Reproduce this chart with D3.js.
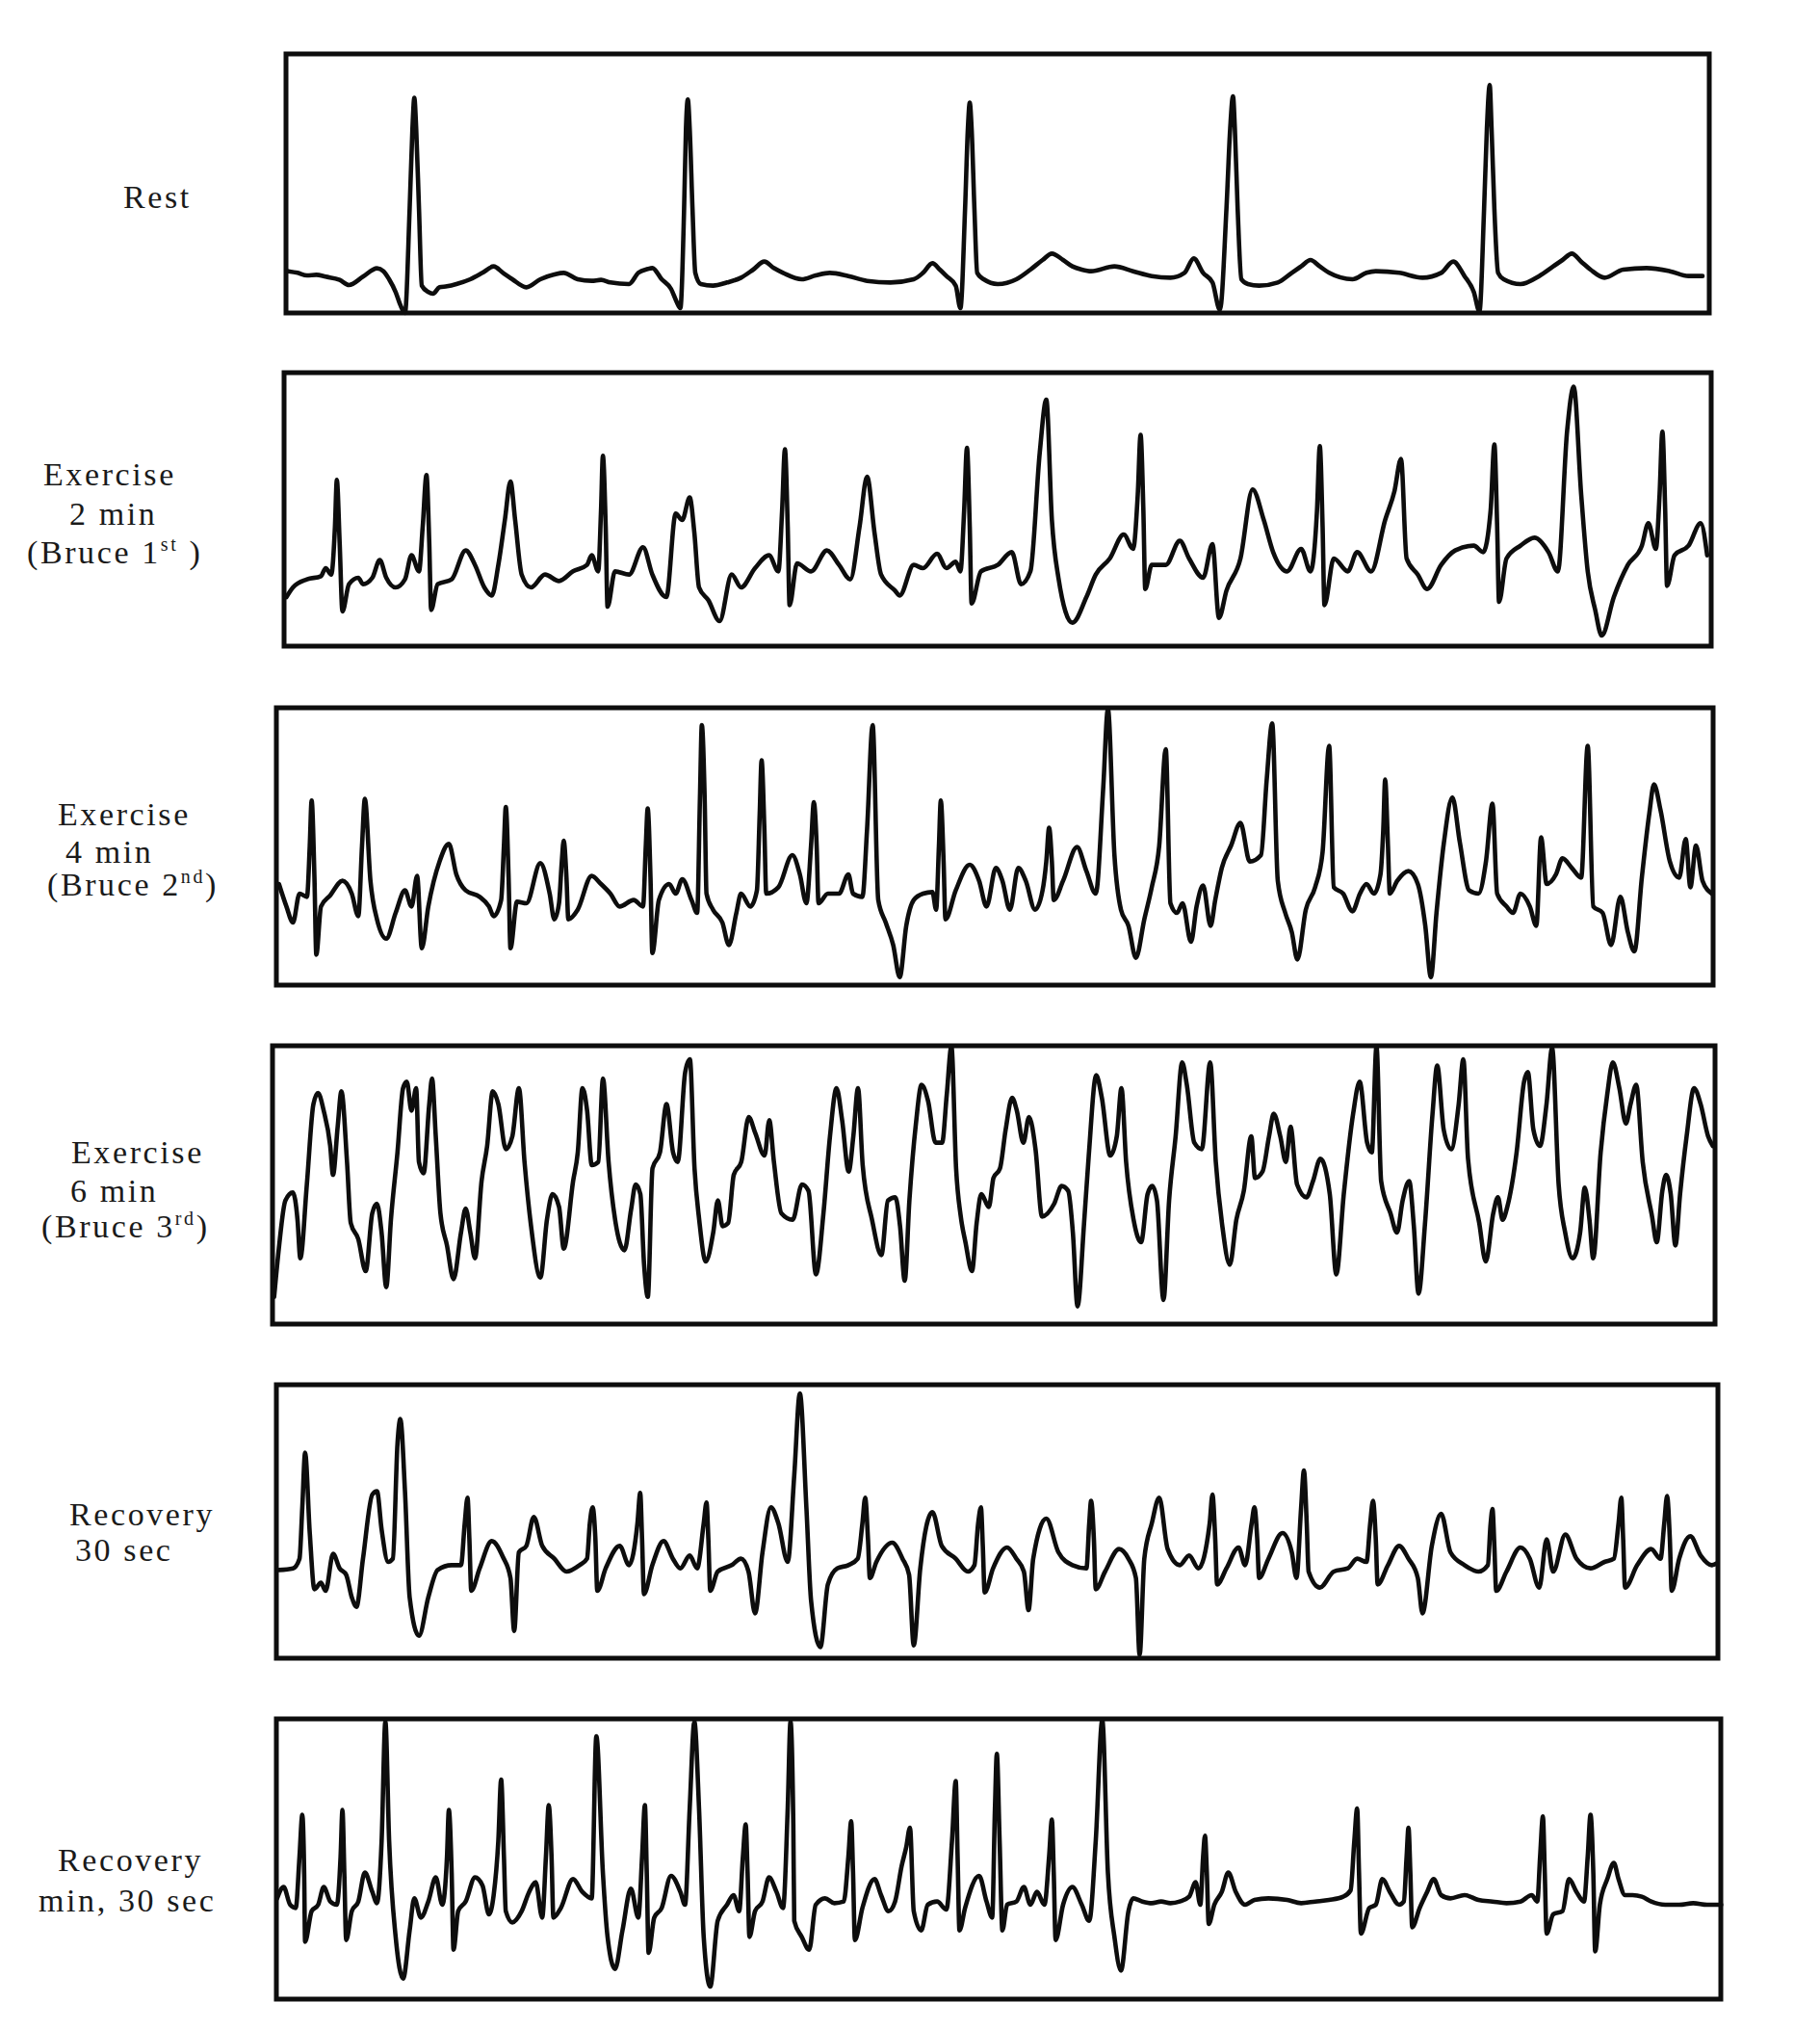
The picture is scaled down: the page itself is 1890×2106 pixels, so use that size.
<!DOCTYPE html>
<html>
<head>
<meta charset="utf-8">
<script src="https://cdn.jsdelivr.net/npm/d3@7"></script>
<style>
  html, body { margin: 0; padding: 0; background: #fff; }
  svg { display: block; }
  text { font-family: "Liberation Serif", "Times New Roman", serif; fill: #1a1a1a; }
</style>
</head>
<body>
<svg id="chart" width="1890" height="2106"></svg>
<script>
const stageNames = ["Rest", "Exercise 2 min", "Exercise 4 min", "Exercise 6 min", "Recovery 30 sec", "Recovery min, 30 sec"];

const restTrace = [[20,695],[30,700],[40,708],[50,706],[60,712],[75,722],[85,738],[100,712],[115,686],[122,695],[128,720],[135,760],[140,800],[145,825],[150,500],[153,250],[155,155],[157,250],[160,500],[163,740],[170,760],[175,765],[182,745],[190,742],[200,735],[215,720],[228,700],[240,680],[250,700],[260,720],[275,745],[290,720],[305,705],[315,700],[330,720],[345,725],[355,722],[365,730],[385,735],[395,700],[405,688],[410,685],[420,720],[430,750],[436,790],[440,810],[444,500],[446,250],[448,160],[450,250],[453,500],[456,700],[462,735],[475,740],[490,730],[505,715],[518,690],[530,665],[540,685],[550,700],[570,720],[585,708],[600,700],[620,710],[640,725],[665,730],[690,720],[700,700],[710,670],[718,690],[725,710],[735,740],[740,810],[745,500],[748,250],[750,170],[752,250],[755,500],[758,700],[765,720],[780,735],[800,720],[815,690],[828,660],[838,640],[850,660],[860,680],[870,690],[880,695],[905,680],[925,695],[945,710],[965,715],[980,700],[990,655],[1000,700],[1010,730],[1018,815],[1025,500],[1029,250],[1032,150],[1034,250],[1037,500],[1041,720],[1048,735],[1060,740],[1080,730],[1095,700],[1105,680],[1115,660],[1125,680],[1135,700],[1160,720],[1175,700],[1185,695],[1210,700],[1235,715],[1255,700],[1268,665],[1280,710],[1290,760],[1296,820],[1301,500],[1304,250],[1307,115],[1309,250],[1312,500],[1316,700],[1322,720],[1340,735],[1360,710],[1375,680],[1385,660],[1395,640],[1405,665],[1415,690],[1430,715],[1450,690],[1475,685],[1500,695],[1520,710],[1535,710]];

const ex2Trace = [[18,720],[25,690],[40,665],[55,655],[60,630],[66,650],[70,500],[72,355],[75,550],[78,765],[85,680],[95,660],[100,680],[110,660],[118,605],[125,660],[135,690],[145,665],[152,590],[160,640],[164,500],[168,340],[171,550],[173,760],[180,680],[195,665],[210,575],[220,620],[230,690],[238,715],[245,620],[252,480],[258,360],[263,480],[270,650],[280,690],[295,650],[310,670],[325,640],[340,620],[345,590],[352,640],[355,450],[357,280],[360,500],[362,750],[370,640],[385,650],[400,565],[410,650],[425,720],[435,460],[442,480],[450,410],[455,520],[460,690],[470,730],[482,795],[495,650],[505,690],[520,630],[535,590],[545,640],[549,450],[552,260],[555,500],[557,745],[565,615],[580,640],[597,575],[610,620],[622,665],[632,500],[640,345],[648,520],[655,650],[670,700],[675,715],[690,620],[700,630],[715,585],[725,630],[735,610],[740,640],[744,450],[747,255],[750,500],[752,740],[762,640],[780,620],[795,580],[805,680],[815,640],[825,270],[832,105],[838,480],[845,660],[860,800],[875,720],[885,650],[900,600],[915,525],[925,570],[930,400],[933,215],[936,450],[938,695],[945,620],[960,620],[975,545],[985,600],[1000,660],[1010,555],[1017,785],[1025,700],[1040,600],[1053,385],[1065,480],[1075,580],[1090,640],[1105,570],[1115,640],[1122,450],[1125,250],[1128,500],[1130,745],[1140,600],[1155,640],[1165,580],[1180,640],[1195,480],[1205,390],[1212,290],[1218,600],[1230,650],[1240,695],[1255,620],[1270,575],[1290,560],[1300,580],[1308,450],[1312,245],[1315,500],[1317,735],[1325,600],[1340,560],[1355,535],[1370,580],[1380,640],[1390,200],[1397,65],[1405,400],[1412,640],[1420,760],[1427,840],[1440,720],[1455,620],[1470,560],[1477,490],[1485,570],[1489,400],[1492,205],[1495,450],[1497,685],[1505,590],[1520,560],[1533,490],[1540,590]];

const ex4Trace = [[10,570],[18,640],[25,690],[32,600],[40,610],[43,450],[45,310],[48,550],[50,790],[55,640],[65,605],[78,560],[88,600],[95,670],[99,450],[102,305],[108,560],[115,680],[125,740],[135,660],[145,590],[152,640],[158,545],[163,770],[170,640],[182,500],[192,445],[200,540],[210,590],[225,610],[235,640],[240,670],[248,620],[251,450],[253,330],[256,550],[258,770],[265,625],[275,630],[290,505],[300,600],[305,680],[310,630],[313,500],[315,435],[318,550],[320,680],[330,650],[345,545],[355,570],[365,600],[375,640],[390,620],[400,640],[403,450],[405,335],[408,550],[410,785],[417,620],[428,570],[435,600],[442,555],[452,620],[458,660],[461,300],[463,75],[466,300],[468,600],[475,650],[485,690],[492,760],[500,660],[505,600],[515,640],[522,590],[525,350],[527,185],[530,400],[532,600],[545,580],[560,480],[568,540],[575,630],[580,450],[583,315],[586,450],[588,630],[598,600],[610,600],[620,540],[625,600],[635,610],[640,400],[646,75],[652,620],[660,690],[668,760],[675,860],[682,700],[690,620],[700,600],[710,595],[714,650],[717,450],[719,310],[722,500],[724,680],[735,590],[750,510],[760,560],[768,640],[778,520],[785,560],[793,650],[802,520],[810,560],[820,650],[828,590],[832,500],[835,395],[838,500],[840,620],[850,560],[865,455],[875,530],[885,600],[893,270],[898,25],[905,480],[912,650],[920,700],[928,800],[937,680],[945,580],[953,450],[960,150],[965,630],[972,660],[978,630],[987,750],[993,640],[1000,575],[1008,700],[1013,620],[1020,520],[1030,450],[1040,380],[1050,500],[1062,480],[1068,250],[1074,70],[1080,560],[1088,660],[1095,720],[1101,805],[1110,650],[1120,580],[1128,470],[1135,140],[1140,580],[1150,600],[1160,655],[1168,600],[1175,570],[1183,600],[1190,540],[1193,400],[1195,245],[1198,450],[1200,600],[1208,560],[1220,530],[1230,570],[1238,700],[1244,860],[1250,660],[1258,440],[1267,300],[1275,440],[1285,590],[1295,600],[1303,500],[1310,320],[1315,600],[1325,640],[1332,660],[1340,600],[1350,640],[1357,700],[1362,425],[1368,570],[1378,540],[1385,490],[1395,520],[1405,550],[1412,140],[1418,640],[1428,660],[1437,760],[1447,610],[1455,720],[1462,780],[1470,550],[1478,350],[1483,260],[1490,340],[1500,500],[1510,550],[1517,430],[1522,580],[1528,450],[1535,560],[1545,600]];

const ex6Trace = [[10,800],[15,650],[22,500],[30,475],[35,560],[38,680],[45,450],[52,200],[57,165],[63,220],[70,330],[73,420],[78,270],[82,160],[88,380],[92,570],[100,620],[108,720],[115,540],[120,510],[125,600],[130,770],[135,560],[142,350],[148,150],[152,130],[157,220],[162,150],[165,380],[170,415],[176,200],[179,120],[183,300],[188,540],[195,640],[202,745],[210,600],[215,525],[220,600],[225,680],[232,440],[238,330],[244,160],[250,200],[258,340],[265,300],[272,150],[278,380],[285,580],[295,740],[302,560],[308,480],[315,520],[320,650],[330,440],[335,350],[340,150],[345,220],[350,390],[357,380],[362,120],[368,380],[375,560],[385,655],[392,530],[397,450],[402,480],[406,700],[410,800],[415,400],[423,350],[430,200],[437,350],[442,380],[450,100],[455,60],[460,400],[465,560],[472,690],[480,600],[485,500],[490,580],[496,570],[502,420],[510,380],[518,240],[525,290],[535,360],[540,250],[545,380],[553,540],[565,560],[575,450],[582,470],[590,730],[598,540],[605,300],[612,150],[618,250],[625,410],[630,300],[635,150],[640,390],[650,560],[660,670],[667,500],[675,490],[680,580],[685,750],[690,500],[697,260],[703,140],[710,190],[718,320],[725,320],[730,170],[735,20],[740,400],[745,550],[750,630],[757,720],[762,570],[767,480],[775,520],[780,430],[787,400],[793,280],[800,180],[805,220],[812,320],[818,240],[825,340],[832,550],[845,510],[853,455],[860,470],[865,600],[870,830],[877,570],[882,360],[890,110],[896,180],[905,360],[912,300],[917,150],[922,380],[930,560],[938,630],[945,480],[950,455],[955,500],[962,810],[968,500],[975,300],[982,70],[987,140],[995,320],[1003,340],[1012,70],[1018,380],[1025,580],[1033,700],[1040,560],[1048,470],[1056,300],[1060,430],[1068,410],[1075,300],[1080,230],[1087,300],[1093,380],[1098,270],[1105,450],[1115,490],[1122,440],[1130,370],[1140,480],[1147,730],[1155,480],[1165,230],[1172,130],[1180,320],[1185,350],[1190,20],[1195,440],[1205,540],[1212,600],[1218,500],[1225,440],[1230,580],[1235,790],[1242,570],[1250,230],[1255,80],[1262,280],[1270,340],[1278,200],[1283,60],[1288,370],[1300,570],[1307,690],[1315,540],[1320,490],[1325,560],[1330,520],[1340,350],[1348,130],[1352,100],[1358,280],[1365,330],[1372,200],[1378,25],[1385,450],[1392,600],[1400,680],[1408,600],[1413,460],[1418,560],[1422,680],[1430,350],[1437,170],[1443,70],[1450,150],[1457,260],[1462,200],[1468,140],[1475,380],[1485,550],[1490,630],[1496,470],[1500,420],[1505,480],[1510,640],[1515,480],[1522,300],[1530,150],[1537,200],[1545,300],[1550,330]];

const rec30Trace = [[10,595],[25,590],[32,560],[35,400],[38,230],[43,480],[48,655],[55,635],[60,660],[68,545],[75,590],[82,610],[88,680],[93,710],[100,560],[110,360],[115,350],[120,470],[127,570],[132,560],[137,200],[140,125],[145,350],[150,680],[160,800],[170,680],[180,595],[195,580],[205,580],[209,450],[212,370],[214,500],[216,660],[225,590],[238,505],[250,555],[258,620],[262,785],[267,540],[275,520],[283,430],[292,520],[305,560],[318,600],[332,580],[340,560],[343,450],[346,400],[349,500],[351,660],[360,590],[375,520],[385,580],[394,450],[397,355],[399,500],[401,670],[410,580],[422,505],[432,560],[440,590],[450,550],[458,590],[465,450],[468,385],[470,500],[472,660],[480,600],[495,580],[505,560],[513,600],[520,730],[528,540],[537,400],[545,450],[555,570],[562,300],[568,45],[575,400],[580,690],[590,835],[598,640],[608,590],[620,580],[630,560],[635,450],[638,370],[641,500],[643,620],[650,570],[667,510],[678,560],[685,610],[690,830],[697,590],[710,415],[720,520],[735,560],[748,600],[755,580],[759,450],[762,400],[764,520],[766,665],[775,590],[790,525],[800,560],[808,600],[813,720],[818,560],[832,435],[845,540],[860,580],[875,590],[878,450],[880,380],[883,500],[885,655],[895,600],[910,530],[920,560],[928,620],[932,860],[937,560],[945,450],[953,370],[962,530],[975,580],[985,550],[995,590],[1007,450],[1010,360],[1013,500],[1015,640],[1025,590],[1038,525],[1045,580],[1052,450],[1055,400],[1058,500],[1060,620],[1070,560],[1085,480],[1095,540],[1100,620],[1105,400],[1108,285],[1111,450],[1113,600],[1125,650],[1140,600],[1155,590],[1165,560],[1175,570],[1179,450],[1182,380],[1185,500],[1187,640],[1198,580],[1210,520],[1220,560],[1230,620],[1235,730],[1245,520],[1255,420],[1265,540],[1280,580],[1295,600],[1305,580],[1308,450],[1310,405],[1312,520],[1314,660],[1325,600],[1340,525],[1350,560],[1360,650],[1368,500],[1375,600],[1388,485],[1400,560],[1415,590],[1430,570],[1440,560],[1445,450],[1448,370],[1450,500],[1452,650],[1465,580],[1480,530],[1490,560],[1494,450],[1497,365],[1500,500],[1502,660],[1510,560],[1522,490],[1533,550],[1545,580],[1550,575]];

const rec90Trace = [[8,580],[15,545],[22,600],[28,610],[32,450],[35,320],[37,500],[38,715],[45,620],[52,600],[58,545],[65,590],[72,600],[76,450],[78,305],[80,500],[82,710],[88,620],[95,590],[102,500],[110,560],[115,595],[120,400],[124,30],[128,400],[135,700],[143,830],[150,680],[155,580],[162,640],[170,590],[178,515],[185,600],[190,450],[192,305],[195,500],[197,740],[202,620],[210,590],[220,515],[228,540],[235,630],[240,570],[245,400],[248,210],[251,450],[253,620],[260,655],[270,620],[278,560],[285,530],[292,640],[296,450],[299,290],[302,450],[304,640],[312,610],[325,520],[335,560],[345,580],[350,75],[357,500],[362,700],[370,800],[378,680],[387,550],[395,640],[399,450],[402,290],[404,500],[406,750],[412,640],[420,610],[430,510],[440,560],[445,600],[450,300],[455,30],[460,300],[465,700],[472,855],[480,650],[490,600],[497,570],[503,620],[507,450],[510,350],[512,500],[514,700],[520,620],[528,590],[535,515],[543,560],[550,610],[555,300],[558,30],[561,350],[562,650],[570,700],[578,740],[585,600],[595,580],[605,595],[615,590],[620,450],[623,340],[625,500],[627,710],[635,610],[648,520],[655,570],[663,620],[670,590],[677,480],[682,420],[686,360],[690,620],[698,680],[705,600],[715,590],[725,615],[731,400],[735,215],[737,450],[739,680],[745,610],[760,510],[768,590],[774,640],[777,300],[779,130],[782,400],[785,680],[790,600],[800,590],[808,545],[815,600],[822,560],[830,600],[835,450],[838,335],[840,500],[842,710],[850,600],[860,545],[870,600],[878,650],[885,400],[892,25],[898,500],[905,700],[912,805],[920,620],[925,580],[935,590],[945,595],[955,590],[965,595],[975,590],[985,575],[992,530],[997,600],[1000,450],[1002,385],[1004,500],[1006,660],[1012,600],[1020,560],[1027,500],[1035,560],[1045,600],[1055,585],[1070,580],[1090,585],[1105,595],[1120,590],[1135,585],[1150,575],[1158,555],[1162,400],[1165,300],[1167,500],[1169,690],[1178,610],[1185,600],[1192,520],[1200,560],[1210,600],[1215,590],[1218,450],[1220,360],[1222,500],[1224,670],[1232,610],[1240,560],[1247,520],[1255,570],[1265,580],[1280,570],[1295,585],[1310,590],[1325,595],[1340,590],[1352,570],[1358,590],[1361,450],[1364,325],[1366,500],[1368,690],[1375,630],[1385,620],[1392,520],[1400,560],[1408,590],[1412,450],[1415,320],[1418,500],[1420,745],[1425,600],[1433,520],[1440,470],[1445,520],[1452,570],[1460,570],[1470,575],[1480,590],[1495,600],[1510,600],[1525,595],[1540,600],[1555,600]];

const traces = [restTrace, ex2Trace, ex4Trace, ex6Trace, rec30Trace, rec90Trace];

// Label lines for each stage; "sup" marks a superscript suffix
const labelLines = [
  [[{t:"Rest"}]],
  [[{t:"Exercise"}], [{t:"2 min"}], [{t:"(Bruce 1"}, {t:"st", sup:true}, {t:" )"}]],
  [[{t:"Exercise"}], [{t:"4 min"}], [{t:"(Bruce 2"}, {t:"nd", sup:true}, {t:")"}]],
  [[{t:"Exercise"}], [{t:"6 min"}], [{t:"(Bruce 3"}, {t:"rd", sup:true}, {t:")"}]],
  [[{t:"Recovery"}], [{t:"30 sec"}]],
  [[{t:"Recovery"}], [{t:"min, 30 sec"}]]
];

// ---------------- LAYOUT ----------------
const layout = [
  {box:[297,56,1775,325],  src:{x0:280,y0:50,  w:1520,tw:1568,h:285}, lab:[[128,216]]},
  {box:[295,387,1777,671], src:{x0:280,y0:380, w:1520,tw:1568,h:300}, lab:[[45,504],[72,545],[28,585]]},
  {box:[287,735,1779,1023],src:{x0:280,y0:728, w:1520,tw:1568,h:305}, lab:[[60,857],[68,896],[49,930]]},
  {box:[283,1086,1781,1375],src:{x0:275,y0:1080,w:1525,tw:1572,h:305}, lab:[[74,1208],[73,1248],[43,1285]]},
  {box:[287,1438,1784,1722],src:{x0:280,y0:1432,w:1520,tw:1568,h:298}, lab:[[72,1584],[78,1621]]},
  {box:[287,1785,1787,2076],src:{x0:280,y0:1778,w:1520,tw:1568,h:308}, lab:[[60,1943],[40,1985]]}
];

const svg = d3.select("#chart");

layout.forEach((L, i) => {
  const g = svg.append("g").attr("class", "panel").attr("data-stage", stageNames[i]);
  const x = d3.scaleLinear().domain([0, L.src.tw]).range([L.src.x0, L.src.x0 + L.src.w]);
  const y = d3.scaleLinear().domain([0, L.src.h * 3]).range([L.src.y0, L.src.y0 + L.src.h]);
  const line = d3.line().x(d => x(d[0])).y(d => y(d[1])).curve(d3.curveMonotoneX);

  const [bx0, by0, bx1, by1] = L.box;
  g.append("path")
    .datum(traces[i])
    .attr("d", line)
    .attr("fill", "none")
    .attr("stroke", "#0d0d0d")
    .attr("stroke-width", 4.6)
    .attr("stroke-linejoin", "round")
    .attr("stroke-linecap", "round");

  g.append("rect")
    .attr("x", bx0).attr("y", by0)
    .attr("width", bx1 - bx0).attr("height", by1 - by0)
    .attr("fill", "none")
    .attr("stroke", "#0d0d0d")
    .attr("stroke-width", 5);

  labelLines[i].forEach((parts, j) => {
    const [lx, ly] = L.lab[j];
    const t = g.append("text")
      .attr("x", lx).attr("y", ly)
      .attr("font-size", 34)
      .attr("letter-spacing", 2.6);
    parts.forEach(p => {
      if (p.sup) {
        t.append("tspan").attr("font-size", 20).attr("dy", -13).text(p.t);
      } else if (t.selectAll("tspan").size() > 0) {
        t.append("tspan").attr("dy", 13).text(p.t);
      } else {
        t.append("tspan").text(p.t);
      }
    });
  });
});
</script>
</body>
</html>
